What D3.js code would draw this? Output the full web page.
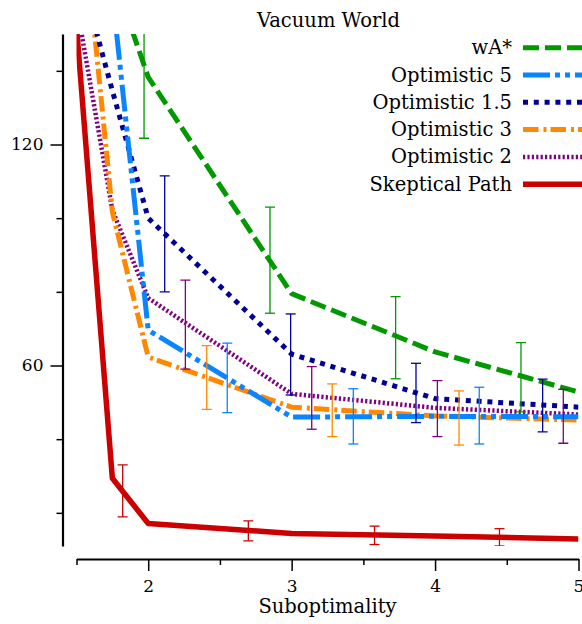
<!DOCTYPE html>
<html>
<head>
<meta charset="utf-8">
<script src="https://cdn.jsdelivr.net/npm/d3@7"></script>
<style>
  body { margin: 0; background: #fff; }
</style>
</head>
<body>
<div id="chart"></div>
<script>
// suboptimality bounds sampled for every algorithm
const xs = [1.5, 1.75, 2, 3, 4, 5];

// mean solution cost per algorithm (first points run off the top of the plot)
const wastar = [190, 166.5, 138.3, 79.5, 63.7, 52.8];
const opt5 = [220, 161, 69.6, 46.0, 46.2, 46.1];
const opt15 = [170.5, 134.6, 100.0, 63.1, 51.0, 48.7];
const opt3 = [200, 101.7, 62.3, 48.7, 46.3, 45.2];
const opt2 = [158, 102.2, 78.3, 52.3, 48.5, 46.7];
const skeptical = [152, 29.4, 17.1, 14.4, 13.7, 12.9];

// error bars: [x, low, high]
const errWastar = [[1.971, 121.7, 160], [2.849, 74.2, 103.0], [3.725, 56.4, 78.7], [4.599, 47.4, 66.2]];
const errOpt5 = [[2.551, 47.2, 66.1], [3.430, 38.7, 53.7], [4.308, 38.7, 54.1]];
const errOpt15 = [[2.115, 80.0, 111.5], [2.993, 52.0, 74.0], [3.867, 44.5, 60.6], [4.750, 42.0, 56.3]];
const errOpt3 = [[2.408, 48.1, 65.4], [3.283, 40.7, 55.0], [4.167, 38.4, 53.1]];
const errOpt2 = [[2.259, 59.0, 83.2], [3.140, 42.7, 59.7], [4.016, 40.7, 55.9], [4.894, 38.9, 53.5]];
const errSkeptical = [[1.822, 18.9, 33.0], [2.698, 12.4, 17.8], [3.578, 11.4, 16.4], [4.449, 11.0, 15.7]];

const legendNames = ["wA*", "Optimistic 5", "Optimistic 1.5", "Optimistic 3", "Optimistic 2", "Skeptical Path"];
const xTicks = [2, 3, 4, 5];
const xMinor = [1.5, 2.5, 3.5, 4.5];
const yTicks = [60, 120];
const yMinor = [20, 40, 80, 100, 140];

var FONT = "DejaVu Serif";

var series = [
  { name: legendNames[0], values: wastar, err: errWastar, color: "#009900", dash: "16,6", width: 5 },
  { name: legendNames[1], values: opt5, err: errOpt5, color: "#0a84ff", dash: "27,5,5,5,5,5", width: 5 },
  { name: legendNames[2], values: opt15, err: errOpt15, color: "#000099", dash: "5,5.8", width: 5 },
  { name: legendNames[3], values: opt3, err: errOpt3, color: "#ff8800", dash: "15.5,5,3,4", width: 5 },
  { name: legendNames[4], values: opt2, err: errOpt2, color: "#800080", dash: "2.2,2.2", width: 4.5 },
  { name: legendNames[5], values: skeptical, err: errSkeptical, color: "#cc0000", dash: null, width: 5.5 }
];

var W = 582, H = 624;
var svg = d3.select("#chart").append("svg").attr("width", W).attr("height", H);

var x = d3.scaleLinear().domain([1.5, 5]).range([76.5, 578.5]);
var y = d3.scaleLinear().domain([11, 150]).range([546, 34]);

svg.append("clipPath").attr("id", "plot")
  .append("rect").attr("x", 76.5).attr("y", 34).attr("width", 502).attr("height", 512);

// y axis (offset to the left of the plot)
var yAxis = svg.append("g").attr("transform", "translate(62.5,0)");
yAxis.call(d3.axisLeft(y).tickValues(yTicks).tickSize(12).tickPadding(7).tickSizeOuter(0).tickFormat(d3.format("d")));
yAxis.append("g").call(d3.axisLeft(y).tickValues(yMinor).tickSize(6).tickFormat("").tickSizeOuter(0))
  .select(".domain").remove();
yAxis.attr("font-family", FONT).attr("font-size", 17);
yAxis.selectAll(".domain").attr("stroke-width", 2.2);
yAxis.selectAll(".tick line").attr("stroke-width", 1.5);

// x axis (offset below the plot)
var xAxis = svg.append("g").attr("transform", "translate(0,559)");
xAxis.call(d3.axisBottom(x).tickValues(xTicks).tickSize(12).tickPadding(8.5).tickSizeOuter(0).tickFormat(d3.format("d")));
xAxis.append("g").call(d3.axisBottom(x).tickValues(xMinor).tickSize(6).tickFormat("").tickSizeOuter(0))
  .select(".domain").remove();
xAxis.attr("font-family", FONT).attr("font-size", 17);
xAxis.selectAll(".domain").attr("stroke-width", 2.2);
xAxis.selectAll(".tick line").attr("stroke-width", 1.5);

var plot = svg.append("g").attr("clip-path", "url(#plot)");

var line = d3.line()
  .x(function (d, i) { return x(xs[i]); })
  .y(function (d) { return y(d); });

// draw in reverse legend order so the first series sit on top
series.slice().reverse().forEach(function (s) {
  plot.append("path")
    .attr("d", line(s.values))
    .attr("fill", "none")
    .attr("stroke", s.color)
    .attr("stroke-width", s.width)
    .attr("stroke-dasharray", s.dash)
    .attr("stroke-linejoin", "round");
});

series.forEach(function (s) {
  var g = plot.append("g").attr("stroke", s.color).attr("stroke-width", 1.3);
  s.err.forEach(function (e) {
    var cx = x(e[0]);
    g.append("line").attr("x1", cx).attr("x2", cx).attr("y1", y(e[1])).attr("y2", y(e[2]));
    g.append("line").attr("x1", cx - 5).attr("x2", cx + 5).attr("y1", y(e[1])).attr("y2", y(e[1]));
    g.append("line").attr("x1", cx - 5).attr("x2", cx + 5).attr("y1", y(e[2])).attr("y2", y(e[2]));
  });
});

// legend
var legend = svg.append("g").attr("font-family", FONT).attr("font-size", 19.5);
series.forEach(function (s, i) {
  var ly = 47.7 + i * 27.3;
  legend.append("line")
    .attr("x1", 523).attr("x2", 592).attr("y1", ly).attr("y2", ly)
    .attr("stroke", s.color)
    .attr("stroke-width", s.width)
    .attr("stroke-dasharray", s.dash);
  legend.append("text")
    .attr("x", 512).attr("y", ly + 6.5)
    .attr("text-anchor", "end")
    .text(s.name);
});

svg.append("text").attr("x", 328.5).attr("y", 27).attr("text-anchor", "middle")
  .attr("font-family", FONT).attr("font-size", 19.5).text("Vacuum World");

svg.append("text").attr("x", 327.5).attr("y", 613).attr("text-anchor", "middle")
  .attr("font-family", FONT).attr("font-size", 19.5).text("Suboptimality");
</script>
</body>
</html>
